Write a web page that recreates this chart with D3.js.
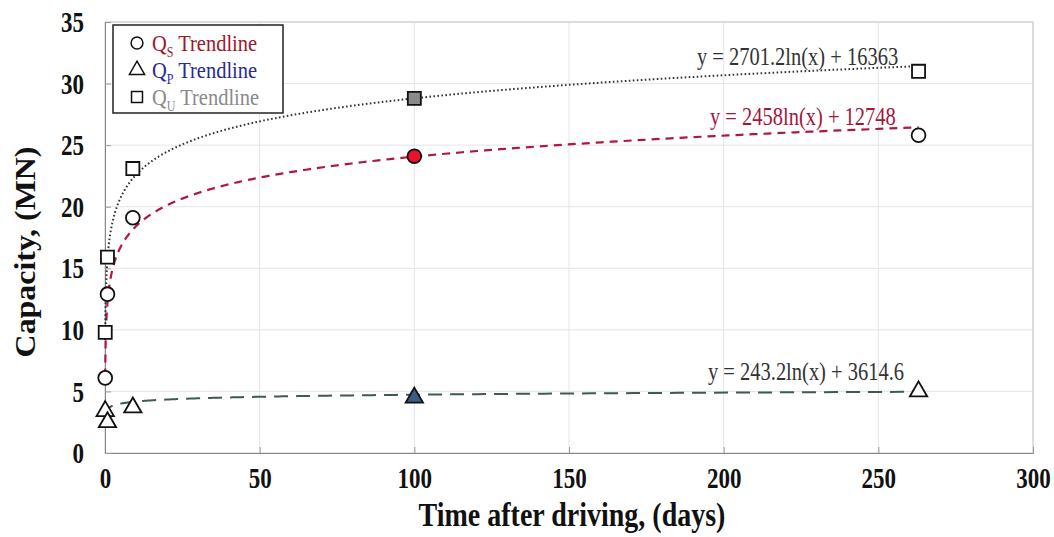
<!DOCTYPE html>
<html>
<head>
<meta charset="utf-8">
<script src="https://cdn.jsdelivr.net/npm/d3@7"></script>
<style>
  body { margin: 0; background: #fff; }
  text { font-family: "Liberation Serif", "Times New Roman", serif; }
</style>
</head>
<body>
<div id="chart"></div>
<script>
// ---- data (days, MN) ----
var qsDays = [0.07, 0.8, 9, 100, 263];
var qsCap  = [6.1, 12.9, 19.1, 24.1, 25.8];
var qpDays = [0.07, 0.8, 9, 100, 263];
var qpCap  = [3.4, 2.5, 3.7, 4.5, 5.0];
var quDays = [0.07, 0.8, 9, 100, 263];
var quCap  = [9.8, 15.9, 23.1, 28.8, 31.0];
// trendline coefficients as printed on the chart (kN): y = a ln(x) + b
var qsTrend = [2458, 12748];
var qpTrend = [243.2, 3614.6];
var quTrend = [2701.2, 16363];
var xTicks = [0, 50, 100, 150, 200, 250, 300];
var yTicks = [0, 5, 10, 15, 20, 25, 30, 35];

var W = 1054, H = 537;
var margin = {top: 22, right: 21, bottom: 84, left: 105};
var width = W - margin.left - margin.right;
var height = H - margin.top - margin.bottom;
var tall = 1.3; // reference text looks stretched vertically

var svg = d3.select("#chart").append("svg")
    .attr("width", W)
    .attr("height", H);

var g = svg.append("g")
    .attr("transform", "translate(" + margin.left + "," + margin.top + ")");

var x = d3.scaleLinear().domain([0, 300]).range([0, width]);
var y = d3.scaleLinear().domain([0, 35]).range([height, 0]);

// grid
g.selectAll(".vgrid").data(xTicks.slice(1)).enter().append("line")
    .attr("x1", function(d){ return x(d); }).attr("x2", function(d){ return x(d); })
    .attr("y1", 0).attr("y2", height)
    .attr("stroke", "#e4e4e8").attr("stroke-width", 1);
g.selectAll(".hgrid").data(yTicks.slice(1)).enter().append("line")
    .attr("x1", 0).attr("x2", width)
    .attr("y1", function(d){ return y(d); }).attr("y2", function(d){ return y(d); })
    .attr("stroke", "#e4e4e8").attr("stroke-width", 1);

// plot border
g.append("rect")
    .attr("width", width).attr("height", height)
    .attr("fill", "none").attr("stroke", "#c8c8c8");

// axes
var xAxis = d3.axisBottom(x).tickValues(xTicks).tickSize(-6);
var yAxis = d3.axisLeft(y).tickValues(yTicks).tickSize(-6).tickPadding(21);

g.append("g").attr("transform", "translate(0," + height + ")").call(xAxis)
    .call(function(a){
        a.select(".domain").attr("stroke", "#888");
        a.selectAll(".tick line").attr("stroke", "#999");
        a.selectAll("text").style("font-size", "23px").style("font-weight", "bold")
            .attr("fill", "#111").attr("font-family", "Liberation Serif")
            .attr("y", 14 / tall).attr("transform", "scale(1," + tall + ")");
    });
g.append("g").call(yAxis)
    .call(function(a){
        a.select(".domain").attr("stroke", "#888");
        a.selectAll(".tick line").attr("stroke", "#999");
        a.selectAll("text").style("font-size", "23px").style("font-weight", "bold")
            .attr("fill", "#111").attr("font-family", "Liberation Serif")
            .attr("transform", "scale(1," + tall + ")");
    });

// axis titles
svg.append("text")
    .attr("transform", "translate(572,526) scale(1,1.22)")
    .attr("text-anchor", "middle")
    .style("font-size", "28px").style("font-weight", "bold").attr("fill", "#111")
    .text("Time after driving, (days)");
svg.append("text")
    .attr("transform", "translate(35,252) rotate(-90) scale(1.1,1)")
    .attr("text-anchor", "middle")
    .style("font-size", "29px").style("font-weight", "bold").attr("fill", "#111")
    .text("Capacity, (MN)");

// trendlines
function trendPts(coef, days) {
    var lo = d3.min(days), hi = d3.max(days);
    var pts = [];
    var n = 400;
    for (var i = 0; i <= n; i++) {
        var t = i / n;
        var d = Math.exp(Math.log(lo) + t * (Math.log(hi) - Math.log(lo)));
        pts.push([d, (coef[0] * Math.log(d) + coef[1]) / 1000]);
    }
    return pts;
}
var line = d3.line()
    .x(function(d){ return x(d[0]); })
    .y(function(d){ return y(d[1]); });

g.append("path").datum(trendPts(qpTrend, qpDays)).attr("d", line)
    .attr("fill", "none").attr("stroke", "#3e5a52").attr("stroke-width", 2)
    .attr("stroke-dasharray", "14,8");
g.append("path").datum(trendPts(qsTrend, qsDays)).attr("d", line)
    .attr("fill", "none").attr("stroke", "#b0173f").attr("stroke-width", 2.2)
    .attr("stroke-dasharray", "8,6");
g.append("path").datum(trendPts(quTrend, quDays)).attr("d", line)
    .attr("fill", "none").attr("stroke", "#333").attr("stroke-width", 2)
    .attr("stroke-dasharray", "1.6,2.4");

// markers
var sym = {
    circle: d3.symbol().type(d3.symbolCircle).size(150),
    triangle: d3.symbol().type(d3.symbolTriangle).size(130),
    square: d3.symbol().type(d3.symbolSquare).size(170)
};
function drawMarkers(days, cap, shape, fillAt100) {
    g.selectAll(null).data(days.map(function(d, i){ return [d, cap[i]]; }))
        .enter().append("path")
        .attr("d", sym[shape])
        .attr("transform", function(d){ return "translate(" + x(d[0]) + "," + y(d[1]) + ")"; })
        .attr("fill", function(d){ return d[0] === 100 ? fillAt100 : "#fff"; })
        .attr("stroke", "#111").attr("stroke-width", 1.8);
}
drawMarkers(quDays, quCap, "square", "#8a8a8a");
drawMarkers(qsDays, qsCap, "circle", "#e8132b");
drawMarkers(qpDays, qpCap, "triangle", "#3c5b85");

// equation labels
function eq(xp, yp, color, txt) {
    svg.append("text")
        .attr("transform", "translate(" + xp + "," + yp + ") scale(1,1.2)")
        .style("font-size", "20.5px").attr("fill", color)
        .text(txt);
}
eq(697, 65, "#333", "y = 2701.2ln(x) + 16363");
eq(710, 125, "#a3163c", "y = 2458ln(x) + 12748");
eq(708, 380, "#333", "y = 243.2ln(x) + 3614.6");

// legend
var lg = svg.append("g").attr("transform", "translate(113,25)");
lg.append("rect").attr("width", 170).attr("height", 88)
    .attr("fill", "#fff").attr("stroke", "#222").attr("stroke-width", 1.5);
var legendItems = [
    {shape: "circle", label: "S", color: "#a3142c"},
    {shape: "triangle", label: "P", color: "#2a2a96"},
    {shape: "square", label: "U", color: "#8a8a8a"}
];
var legSym = {
    circle: d3.symbol().type(d3.symbolCircle).size(110),
    triangle: d3.symbol().type(d3.symbolTriangle).size(100),
    square: d3.symbol().type(d3.symbolSquare).size(120)
};
legendItems.forEach(function(d, i) {
    var yy = 18 + i * 27;
    lg.append("path").attr("d", legSym[d.shape])
        .attr("transform", "translate(24," + yy + ")")
        .attr("fill", "#fff").attr("stroke", "#111").attr("stroke-width", 1.5);
    var t = lg.append("text")
        .attr("transform", "translate(39," + (yy + 8) + ") scale(1,1.15)")
        .style("font-size", "20.5px").attr("fill", d.color);
    t.append("tspan").text("Q");
    t.append("tspan").attr("dy", 5).style("font-size", "12px").text(d.label);
    t.append("tspan").attr("dy", -5).text(" Trendline");
});
</script>
</body>
</html>
